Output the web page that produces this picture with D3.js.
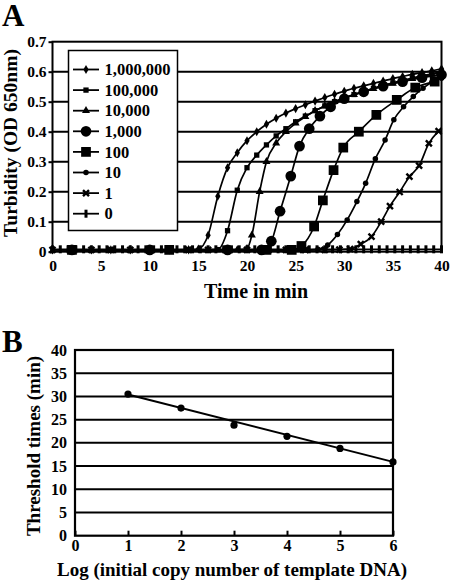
<!DOCTYPE html>
<html><head><meta charset="utf-8">
<script src="https://cdn.jsdelivr.net/npm/d3@7"></script>
<style>body{margin:0;background:#fff}svg{display:block}text{font-family:"Liberation Serif","Times New Roman",serif;font-weight:bold;fill:#000}</style>
</head><body><svg id="c" width="450" height="583"></svg>
<script>
// ---------- Panel A data (time in min, turbidity OD650) ----------
const seriesNames = ["1,000,000","100,000","10,000","1,000","100","10","1","0"];
const t1e6 = [0,2,4,6,8,10,12,14,15,16,17,18,19,20,21,22,23,24,25,26,27,28,29,30,31,32,33,34,35,36,37,38,39,40];
const v1e6 = [0.006,0.006,0.006,0.006,0.006,0.006,0.006,0.006,0.009,0.055,0.185,0.28,0.33,0.37,0.40,0.425,0.445,0.462,0.477,0.49,0.502,0.514,0.525,0.535,0.545,0.553,0.561,0.569,0.577,0.584,0.591,0.597,0.603,0.61];
const t1e5 = [2,6,10,14,17,18,19,20,21,22,23,24,25,26,27,28,29,30,31,32,33,34,35,36,37,38,39,40];
const v1e5 = [0.006,0.006,0.006,0.006,0.007,0.07,0.205,0.28,0.322,0.356,0.386,0.41,0.433,0.452,0.47,0.486,0.5,0.513,0.524,0.535,0.545,0.554,0.563,0.571,0.579,0.586,0.593,0.6];
const t1e4 = [2,8,14,19,20,20.5,21.3,22,23,24,25,26,27,28,29,30,31,32,33,34,35,36,37,38,39,40];
const v1e4 = [0.006,0.006,0.006,0.006,0.01,0.055,0.2,0.3,0.362,0.4,0.428,0.45,0.47,0.486,0.5,0.512,0.523,0.533,0.543,0.552,0.561,0.569,0.577,0.584,0.591,0.597];
const t1e3 = [2,10,18,21.5,22.5,23.4,24.5,25.4,26.4,27.5,28.6,30,32,34,36,38,40];
const v1e3 = [0.006,0.006,0.006,0.006,0.035,0.135,0.252,0.352,0.41,0.452,0.483,0.51,0.533,0.552,0.567,0.58,0.59];
const t1e2 = [2,12,22,24.6,25.6,26.9,27.8,28.9,29.9,31.5,33.3,35.4,37.3,39.3];
const v1e2 = [0.006,0.006,0.006,0.006,0.019,0.084,0.171,0.272,0.347,0.4,0.456,0.506,0.547,0.567];
const t1e1 = [2,6,10,14,18,22,26,27.3,28.3,29.3,30.3,31.3,32.2,33.2,34.2,35.1,36.1,37.1,38.1,39,40];
const v1e1 = [0.006,0.006,0.006,0.006,0.006,0.006,0.006,0.008,0.022,0.057,0.106,0.167,0.228,0.31,0.372,0.44,0.483,0.517,0.545,0.565,0.578];
const t1 = [0,2,4,6,8,10,12,14,16,18,20,22,24,26,28,29.5,30.6,31.7,32.8,33.8,34.7,35.7,36.7,37.7,38.7,39.7];
const v1 = [0.006,0.006,0.006,0.006,0.006,0.006,0.006,0.006,0.006,0.006,0.006,0.006,0.006,0.006,0.006,0.007,0.009,0.025,0.05,0.1,0.152,0.199,0.25,0.287,0.361,0.402];
const t0 = [0,0.8,1.6,2.4,3.2,4,4.8,5.6,6.4,7.2,8,8.8,9.6,10.4,11.2,12,12.8,13.6,14.4,15.2,16,16.8,17.6,18.4,19.2,20,20.8,21.6,22.4,23.2,24,24.8,25.6,26.4,27.2,28,28.8,29.6,30.4,31.2,32,32.8,33.6,34.4,35.2,36,36.8,37.6,38.4,39.2,40];
const v0 = [0.008,0.008,0.008,0.008,0.008,0.008,0.008,0.008,0.008,0.008,0.008,0.008,0.008,0.008,0.008,0.008,0.008,0.008,0.008,0.008,0.008,0.008,0.008,0.008,0.008,0.008,0.008,0.008,0.008,0.008,0.008,0.008,0.008,0.008,0.008,0.008,0.008,0.008,0.008,0.008,0.008,0.008,0.008,0.008,0.008,0.008,0.008,0.008,0.008,0.008,0.008];
const aYTicks = [0,0.1,0.2,0.3,0.4,0.5,0.6,0.7];
const aYLabels = ["0","0.1","0.2","0.3","0.4","0.5","0.6","0.7"];
const aXTicks = [0,5,10,15,20,25,30,35,40];

// ---------- Panel B data ----------
const bX = [1,2,3,4,5,6];
const bY = [30.5,27.5,23.8,21.4,18.8,15.9];
const trendX = [1,6];
const trendY = [30.4,15.9];
const bYTicks = [0,5,10,15,20,25,30,35,40];
const bXTicks = [0,1,2,3,4,5,6];

const FONT = "'Liberation Serif','Times New Roman',serif";
const svg = d3.select("#c");

function styleAxis(g, size){
  g.attr("font-family", FONT).attr("font-weight","bold");
  g.selectAll("text").attr("font-family", FONT).attr("font-weight","bold").style("font-size", size+"px").attr("fill","#000");
}

// ===== Panel A =====
const xA = d3.scaleLinear().domain([0,40]).range([52.5,441.5]);
const yA = d3.scaleLinear().domain([0,0.7]).range([251.7,41.7]);
const gA = svg.append("g");

gA.selectAll(".grid").data(aYTicks.filter(d=>d>0 && d<0.7)).join("line")
  .attr("x1",xA(0)).attr("x2",xA(40)).attr("y1",d=>yA(d)).attr("y2",d=>yA(d))
  .attr("stroke","#000").attr("stroke-width",2);

const yAxA = d3.axisLeft(yA).tickValues(aYTicks).tickFormat((d,i)=>aYLabels[i]).tickSize(4).tickPadding(2);
const gyA = gA.append("g").attr("transform",`translate(${xA(0)},0)`).call(yAxA);
gyA.select(".domain").remove();
gyA.selectAll("line").attr("stroke","#000").attr("stroke-width",2);
styleAxis(gyA, 15.5);

const xAxA = d3.axisBottom(xA).tickValues(aXTicks).tickFormat(d3.format("d")).tickSize(0).tickPadding(8);
const gxA = gA.append("g").attr("transform",`translate(0,${yA(0)})`).call(xAxA);
gxA.select(".domain").remove();
styleAxis(gxA, 15.5);

const seriesA = [
  {t:t1e6,v:v1e6,m:"diamond"},
  {t:t1e5,v:v1e5,m:"smallsquare"},
  {t:t1e4,v:v1e4,m:"triangle"},
  {t:t1e3,v:v1e3,m:"bigcircle"},
  {t:t1e2,v:v1e2,m:"bigsquare"},
  {t:t1e1,v:v1e1,m:"smallcircle"},
  {t:t1,v:v1,m:"x"},
  {t:t0,v:v0,m:"bar"}
];

function marker(sel, m){
  if(m==="bar"){
    sel.append("rect").attr("x",-1.5).attr("y",-4).attr("width",3).attr("height",8).attr("fill","#000");
    return;
  }
  if(m==="x"){
    sel.append("path").attr("d","M-3,-3L3,3M-3,3L3,-3").attr("stroke","#000").attr("stroke-width",2.4).attr("fill","none");
    return;
  }
  const map = {
    diamond:[d3.symbolDiamond,24],
    smallsquare:[d3.symbolSquare,28],
    triangle:[d3.symbolTriangle,28],
    bigcircle:[d3.symbolCircle,90],
    bigsquare:[d3.symbolSquare,95],
    smallcircle:[d3.symbolCircle,24]
  };
  const [type,size] = map[m];
  sel.append("path").attr("d",d3.symbol().type(type).size(size)()).attr("fill","#000");
}

const line = d3.line().x(d=>xA(d[0])).y(d=>yA(d[1])).curve(d3.curveMonotoneX);
seriesA.slice().reverse().forEach(s=>{
  const pts = s.t.map((t,i)=>[t,s.v[i]]);
  gA.append("path").datum(pts).attr("d",line).attr("fill","none").attr("stroke","#000").attr("stroke-width",1.7);
  gA.append("g").selectAll("g").data(pts).join("g")
    .attr("transform",d=>`translate(${xA(d[0])},${yA(d[1])})`)
    .each(function(){ marker(d3.select(this), s.m); });
});

// legend
const lg = gA.append("g");
lg.append("rect").attr("x",68.5).attr("y",50.5).attr("width",109).attr("height",180)
  .attr("fill","#fff").attr("stroke","#000").attr("stroke-width",1.5);
seriesNames.forEach((n,i)=>{
  const y = 69.5 + i*20.6;
  const g = lg.append("g");
  g.append("line").attr("x1",73).attr("x2",99).attr("y1",y).attr("y2",y).attr("stroke","#000").attr("stroke-width",1.8);
  const mg = g.append("g").attr("transform",`translate(86,${y})`);
  marker(mg, seriesA[i].m);
  g.append("text").attr("x",104.5).attr("y",y).attr("dy","0.35em").style("font-size","16.5px").text(n);
});

gA.append("rect").attr("x",xA(0)).attr("y",yA(0.7)).attr("width",xA(40)-xA(0)).attr("height",yA(0)-yA(0.7))
  .attr("fill","none").attr("stroke","#000").attr("stroke-width",2);

svg.append("text").attr("x",2).attr("y",26).style("font-size","31px").text("A");
svg.append("text").attr("transform","translate(17,143) rotate(-90)").attr("text-anchor","middle").style("font-size","19.5px").text("Turbidity (OD 650nm)");
svg.append("text").attr("x",256).attr("y",298).attr("text-anchor","middle").style("font-size","20px").text("Time in min");

// ===== Panel B =====
const xB = d3.scaleLinear().domain([0,6]).range([75,393]);
const yB = d3.scaleLinear().domain([0,40]).range([535.7,350]);
const gB = svg.append("g");
gB.selectAll(".gridb").data(bYTicks.filter(d=>d>0 && d<40)).join("line")
  .attr("x1",xB(0)).attr("x2",xB(6)).attr("y1",d=>yB(d)).attr("y2",d=>yB(d))
  .attr("stroke","#000").attr("stroke-width",2);

const gyB = gB.append("g").attr("transform",`translate(${xB(0)},0)`).call(d3.axisLeft(yB).tickValues(bYTicks).tickFormat(d3.format("d")).tickSize(0).tickPadding(8));
gyB.select(".domain").remove();
styleAxis(gyB, 16);

const gxB = gB.append("g").attr("transform",`translate(0,${yB(0)})`).call(d3.axisBottom(xB).tickValues(bXTicks).tickFormat(d3.format("d")).tickSize(-5).tickPadding(6));
gxB.select(".domain").remove();
gxB.selectAll("line").attr("stroke","#000").attr("stroke-width",2);
gxB.selectAll("text").attr("dy","0.6em");
styleAxis(gxB, 16);

gB.append("path").datum(trendX.map((x,i)=>[x,trendY[i]]))
  .attr("d",d3.line().x(d=>xB(d[0])).y(d=>yB(d[1]))).attr("fill","none").attr("stroke","#000").attr("stroke-width",2);
gB.selectAll(".pt").data(bX.map((x,i)=>[x,bY[i]])).join("circle")
  .attr("cx",d=>xB(d[0])).attr("cy",d=>yB(d[1])).attr("r",3.6).attr("fill","#000");

gB.append("rect").attr("x",xB(0)).attr("y",yB(40)).attr("width",xB(6)-xB(0)).attr("height",yB(0)-yB(40))
  .attr("fill","none").attr("stroke","#000").attr("stroke-width",2.2);

svg.append("text").attr("x",2).attr("y",352).style("font-size","31px").text("B");
svg.append("text").attr("transform","translate(40,446) rotate(-90)").attr("text-anchor","middle").style("font-size","19px").text("Threshold times (min)");
svg.append("text").attr("x",232).attr("y",576).attr("text-anchor","middle").style("font-size","19px").text("Log (initial copy number of template DNA)");
</script></body></html>
